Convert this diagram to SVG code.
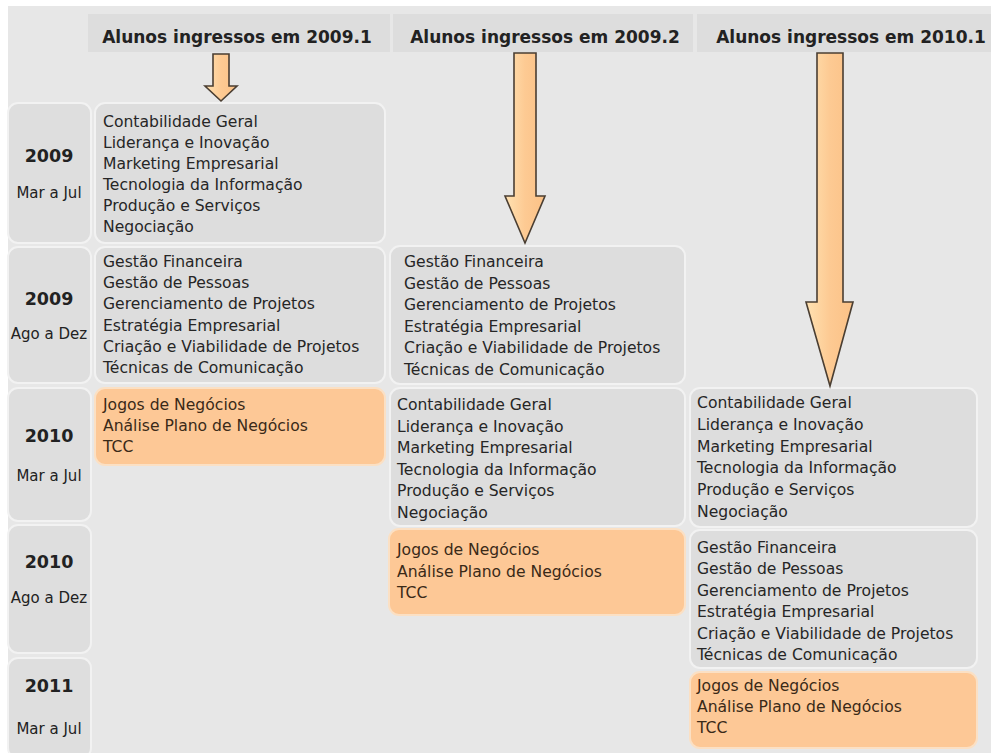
<svg xmlns="http://www.w3.org/2000/svg" width="991" height="753" viewBox="0 0 991 753">
<defs>
<linearGradient id="ag" x1="0" y1="0" x2="1" y2="0">
<stop offset="0" stop-color="#ffe2b2"/>
<stop offset="0.5" stop-color="#fdca93"/>
<stop offset="1" stop-color="#fbc186"/>
</linearGradient>
<style>
.hdr{fill:#dddddd}
.ht{font-family:"DejaVu Sans",Verdana,sans-serif;font-weight:bold;font-size:17px;fill:#222;text-anchor:middle}
.lab{fill:#dedede;stroke:#f2f2f2;stroke-width:2}
.yr{font-family:"DejaVu Sans",Verdana,sans-serif;font-weight:bold;font-size:17.5px;fill:#222;text-anchor:middle}
.per{font-family:"DejaVu Sans",Verdana,sans-serif;font-size:15px;fill:#222;text-anchor:middle}
.box{fill:#dddddd;stroke:#f2f2f2;stroke-width:2}
.obox{fill:#fdc896;stroke:#fbe0c4;stroke-width:2}
.t{font-family:"DejaVu Sans",Verdana,sans-serif;font-size:15.6px;fill:#262626}
.ot{font-family:"DejaVu Sans",Verdana,sans-serif;font-size:15.6px;fill:#3a2a18}
.arr{fill:url(#ag);stroke:#4a3e32;stroke-width:1.6;stroke-linejoin:miter}
</style>
</defs>
<rect x="0" y="0" width="991" height="753" fill="#ffffff"/>
<rect x="8" y="6" width="983" height="747" fill="#e7e7e7"/>

<g id="headers">
<g id="h1"><rect class="hdr" x="88" y="14" width="302" height="38"/><text class="ht" x="237" y="43">Alunos ingressos em 2009.1</text></g>
<g id="h2"><rect class="hdr" x="393" y="14" width="300" height="38"/><text class="ht" x="545" y="43">Alunos ingressos em 2009.2</text></g>
<g id="h3"><rect class="hdr" x="697" y="14" width="294" height="38"/><text class="ht" x="851" y="43">Alunos ingressos em 2010.1</text></g>
</g>

<g id="labels">
<g id="r1"><rect class="lab" x="8" y="103" width="83" height="140" rx="10"/><text class="yr" x="49" y="162">2009</text><text class="per" x="49" y="198">Mar a Jul</text></g>
<g id="r2"><rect class="lab" x="8" y="247" width="83" height="136" rx="10"/><text class="yr" x="49" y="305">2009</text><text class="per" x="49" y="339">Ago a Dez</text></g>
<g id="r3"><rect class="lab" x="8" y="388" width="83" height="133" rx="10"/><text class="yr" x="49" y="442">2010</text><text class="per" x="49" y="481">Mar a Jul</text></g>
<g id="r4"><rect class="lab" x="8" y="525" width="83" height="128" rx="10"/><text class="yr" x="49" y="568">2010</text><text class="per" x="49" y="603">Ago a Dez</text></g>
<g id="r5"><rect class="lab" x="8" y="658" width="83" height="100" rx="10"/><text class="yr" x="49" y="692">2011</text><text class="per" x="49" y="734">Mar a Jul</text></g>
</g>

<g id="c1r1"><rect class="box" x="95" y="103" width="290" height="140" rx="10"/>
<text class="t" x="103" y="127">Contabilidade Geral</text>
<text class="t" x="103" y="148">Liderança e Inovação</text>
<text class="t" x="103" y="169">Marketing Empresarial</text>
<text class="t" x="103" y="190">Tecnologia da Informação</text>
<text class="t" x="103" y="211">Produção e Serviços</text>
<text class="t" x="103" y="232">Negociação</text>
</g>
<g id="c1r2"><rect class="box" x="95" y="247" width="290" height="136" rx="10"/>
<text class="t" x="103" y="267">Gestão Financeira</text>
<text class="t" x="103" y="288.2">Gestão de Pessoas</text>
<text class="t" x="103" y="309.4">Gerenciamento de Projetos</text>
<text class="t" x="103" y="330.6">Estratégia Empresarial</text>
<text class="t" x="103" y="351.8">Criação e Viabilidade de Projetos</text>
<text class="t" x="103" y="373">Técnicas de Comunicação</text>
</g>
<g id="c1r3"><rect class="obox" x="95" y="388" width="290" height="77" rx="10"/>
<text class="ot" x="103" y="410">Jogos de Negócios</text>
<text class="ot" x="103" y="431">Análise Plano de Negócios</text>
<text class="ot" x="103" y="452">TCC</text>
</g>

<g id="c2r2"><rect class="box" x="390" y="246" width="295" height="138" rx="10"/>
<text class="t" x="404" y="267">Gestão Financeira</text>
<text class="t" x="404" y="288.6">Gestão de Pessoas</text>
<text class="t" x="404" y="310.2">Gerenciamento de Projetos</text>
<text class="t" x="404" y="331.8">Estratégia Empresarial</text>
<text class="t" x="404" y="353.4">Criação e Viabilidade de Projetos</text>
<text class="t" x="404" y="375">Técnicas de Comunicação</text>
</g>
<g id="c2r3"><rect class="box" x="390" y="388" width="295" height="138" rx="10"/>
<text class="t" x="397" y="410">Contabilidade Geral</text>
<text class="t" x="397" y="431.6">Liderança e Inovação</text>
<text class="t" x="397" y="453.2">Marketing Empresarial</text>
<text class="t" x="397" y="474.8">Tecnologia da Informação</text>
<text class="t" x="397" y="496.4">Produção e Serviços</text>
<text class="t" x="397" y="518">Negociação</text>
</g>
<g id="c2r4"><rect class="obox" x="389" y="529" width="296" height="86" rx="10"/>
<text class="ot" x="397" y="555">Jogos de Negócios</text>
<text class="ot" x="397" y="576.5">Análise Plano de Negócios</text>
<text class="ot" x="397" y="598">TCC</text>
</g>

<g id="c3r3"><rect class="box" x="690" y="388" width="287" height="139" rx="10"/>
<text class="t" x="697" y="408">Contabilidade Geral</text>
<text class="t" x="697" y="429.8">Liderança e Inovação</text>
<text class="t" x="697" y="451.6">Marketing Empresarial</text>
<text class="t" x="697" y="473.4">Tecnologia da Informação</text>
<text class="t" x="697" y="495.2">Produção e Serviços</text>
<text class="t" x="697" y="517">Negociação</text>
</g>
<g id="c3r4"><rect class="box" x="690" y="530" width="287" height="138" rx="10"/>
<text class="t" x="697" y="553">Gestão Financeira</text>
<text class="t" x="697" y="574.4">Gestão de Pessoas</text>
<text class="t" x="697" y="595.8">Gerenciamento de Projetos</text>
<text class="t" x="697" y="617.2">Estratégia Empresarial</text>
<text class="t" x="697" y="638.6">Criação e Viabilidade de Projetos</text>
<text class="t" x="697" y="660">Técnicas de Comunicação</text>
</g>
<g id="c3r5"><rect class="obox" x="690" y="672" width="287" height="76" rx="10"/>
<text class="ot" x="697" y="691">Jogos de Negócios</text>
<text class="ot" x="697" y="712">Análise Plano de Negócios</text>
<text class="ot" x="697" y="733">TCC</text>
</g>

<g id="connectors">
<path class="arr" d="M213,54 H229 V86 H237 L221,101 L205,86 H213 Z"/>
<path class="arr" d="M514,53 H536 V196 H545 L525,243 L505,196 H514 Z"/>
<path class="arr" d="M817,53 H843 V302 H853 L830,386 L806,302 H817 Z"/>
</g>
</svg>
